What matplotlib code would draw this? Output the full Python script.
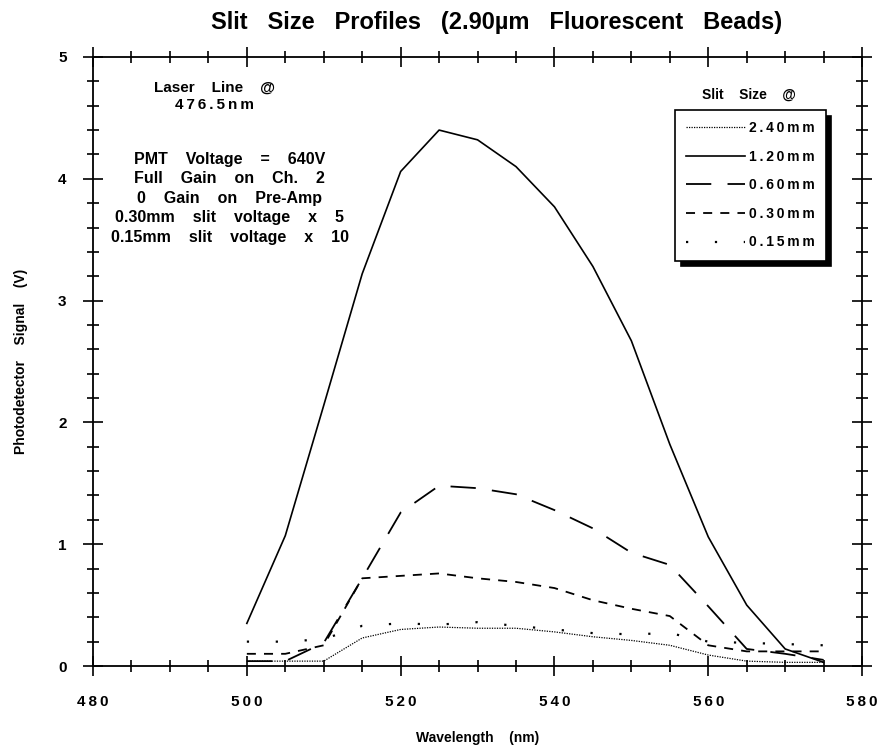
import numpy as np
import matplotlib
matplotlib.use("Agg")
import matplotlib.pyplot as plt
from matplotlib.ticker import MultipleLocator, FuncFormatter

plt.rcParams['font.family'] = ['Liberation Sans', 'DejaVu Sans']
plt.rcParams['font.weight'] = 'bold'

# data
wavelength = [500, 505, 510, 515, 520, 525, 530, 535, 540, 545, 550, 555, 560, 565, 570, 575]
slit_240 = [0.04, 0.04, 0.04, 0.23, 0.30, 0.32, 0.31, 0.31, 0.28, 0.24, 0.21, 0.17, 0.09, 0.04, 0.03, 0.03]
slit_120 = [0.35, 1.07, 2.14, 3.22, 4.06, 4.40, 4.32, 4.10, 3.77, 3.28, 2.67, 1.82, 1.06, 0.50, 0.14, 0.03]
slit_060 = [0.04, 0.04, 0.19, 0.72, 1.26, 1.48, 1.46, 1.41, 1.28, 1.13, 0.93, 0.83, 0.49, 0.14, 0.10, 0.05]
slit_030 = [0.10, 0.10, 0.17, 0.72, 0.74, 0.76, 0.72, 0.69, 0.64, 0.54, 0.47, 0.41, 0.17, 0.12, 0.12, 0.12]
slit_015 = [0.20, 0.20, 0.22, 0.33, 0.35, 0.34, 0.36, 0.33, 0.30, 0.27, 0.26, 0.27, 0.20, 0.19, 0.18, 0.17]
labels = ['2.40mm', '1.20mm', '0.60mm', '0.30mm', '0.15mm']


def spaced(s):
    # the old plot uses letter-spaced labels
    return '\u2009'.join(s)


fig = plt.figure(figsize=(8.86, 7.5), dpi=100)
ax = fig.add_axes([0.105, 0.112, 0.868, 0.812])

ax.plot(wavelength, slit_240, color='k', lw=0.9, linestyle=(0, (1, 1)), label=spaced(labels[0]))
ax.plot(wavelength, slit_120, color='k', lw=1.2, linestyle='-', label=spaced(labels[1]))
ax.plot(wavelength, slit_060, color='k', lw=1.3, linestyle=(0, (14, 9)), label=spaced(labels[2]))
ax.plot(wavelength, slit_030, color='k', lw=1.3, linestyle=(0, (5, 4.5)), label=spaced(labels[3]))
ax.plot(wavelength, slit_015, color='k', lw=1.6, linestyle=(0, (1, 12)), label=spaced(labels[4]))

ax.set_xlim(480, 580)
ax.set_ylim(0, 5)
ax.xaxis.set_major_locator(MultipleLocator(20))
ax.xaxis.set_minor_locator(MultipleLocator(5))
ax.yaxis.set_major_locator(MultipleLocator(1))
ax.yaxis.set_minor_locator(MultipleLocator(0.2))
ax.xaxis.set_major_formatter(FuncFormatter(lambda v, p: spaced(str(int(v)))))
ax.tick_params(which='both', direction='inout', top=True, right=True, width=1.2, colors='k')
ax.tick_params(which='major', length=14)
ax.tick_params(which='minor', length=8)
ax.tick_params(axis='x', which='major', labelsize=11, pad=14)
ax.tick_params(axis='y', which='major', labelsize=11, pad=12)
for s in ax.spines.values():
    s.set_linewidth(1.3)

ax.set_xlabel('Wavelength    (nm)', fontsize=10, fontweight='bold', labelpad=16)
ax.set_ylabel('Photodetector    Signal    (V)', fontsize=10, fontweight='bold', labelpad=22)
fig.suptitle('Slit   Size   Profiles   (2.90\u00b5m   Fluorescent   Beads)', fontsize=17,
             fontweight='bold', x=0.561, y=0.985)

# annotations
ax.text(495.8, 4.75, 'Laser    Line    @', fontsize=11, ha='center', va='center')
ax.text(495.8, 4.61, spaced('476.5nm'), fontsize=11, ha='center', va='center')
notes = ['PMT    Voltage    =    640V', 'Full    Gain    on    Ch.    2', '0    Gain    on    Pre-Amp',
         '0.30mm    slit    voltage    x    5', '0.15mm    slit    voltage    x    10']
for i, t in enumerate(notes):
    ax.text(497.8, 4.16 - i * 0.16, t, fontsize=11.5, ha='center', va='center')

ax.text(565.3, 4.69, 'Slit    Size    @', fontsize=10, ha='center', va='center')
leg = ax.legend(loc='upper left', bbox_to_anchor=(0.757, 0.913), borderaxespad=0, fontsize=10,
                handlelength=4.2, handletextpad=0.3, labelspacing=1.05,
                frameon=True, fancybox=False, borderpad=0.8,
                shadow={'color': 'k', 'alpha': 1, 'ox': 4, 'oy': -4})
leg.get_frame().set_edgecolor('k')
leg.get_frame().set_linewidth(1.2)
leg.get_frame().set_alpha(1)

fig.savefig('out.png', dpi=100)
